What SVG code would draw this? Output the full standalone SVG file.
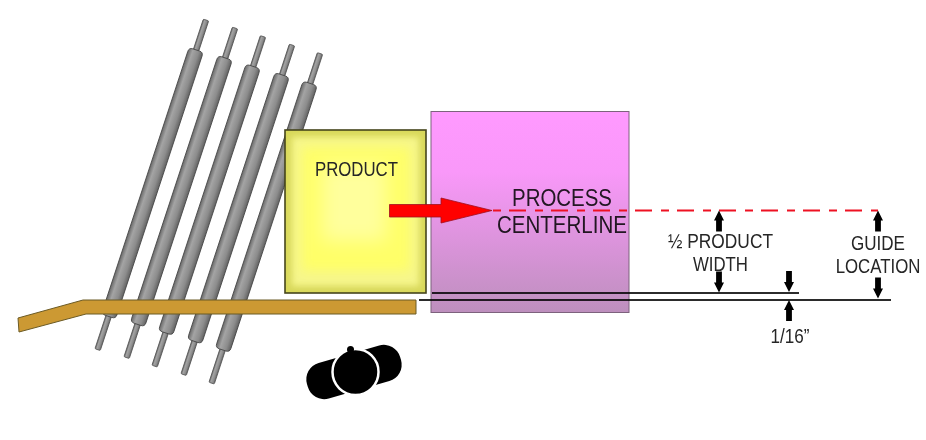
<svg xmlns="http://www.w3.org/2000/svg" width="926" height="440" viewBox="0 0 926 440">
<style>
text{font-family:"Liberation Sans",Arial,sans-serif;fill:#262626;text-anchor:middle}
.s17{font-size:19.5px}
.s20{font-size:23px}
.pin{fill:url(#rollGrad);stroke:#555;stroke-width:.8}
.body{fill:url(#rollGrad);stroke:#444;stroke-width:.8}
.dim{stroke:#2b2b2b;fill:none}
</style>
<defs>
<linearGradient id="rollGrad" x1="0" x2="1" y1="0" y2="0">
<stop offset="0" stop-color="#686868"/><stop offset=".3" stop-color="#a4a4a4"/><stop offset=".7" stop-color="#8c8c8c"/><stop offset="1" stop-color="#626262"/>
</linearGradient>
<linearGradient id="pinkGrad" x1="0" x2="0" y1="0" y2="1">
<stop offset="0" stop-color="#ff99ff"/><stop offset=".3" stop-color="#f998f9"/><stop offset="1" stop-color="#bd8fbd"/>
</linearGradient>
<filter id="b3" x="-10%" y="-10%" width="120%" height="120%"><feGaussianBlur stdDeviation="3"/></filter>
<filter id="b6" x="-20%" y="-20%" width="140%" height="140%"><feGaussianBlur stdDeviation="6"/></filter>
<filter id="b10" x="-30%" y="-30%" width="160%" height="160%"><feGaussianBlur stdDeviation="9"/></filter>
<clipPath id="prodClip"><rect x="285" y="130" width="141" height="163"/></clipPath>
<g id="roller">
<rect class="pin" x="-2.800" y="0" width="5.600" height="347" rx="1"/>
<rect class="body" x="-7.500" y="31.500" width="15" height="280.500" rx="4"/>
</g>
<path id="arrowHead" d="M0 0L5 10H2.900V21H-2.900V10H-5Z" fill="#000"/>
</defs>

<g id="rollers">
<g id="roller-1" transform="translate(206 20) rotate(18.2)"><use href="#roller"/></g>
<g id="roller-2" transform="translate(235 28) rotate(18.2)"><use href="#roller"/></g>
<g id="roller-3" transform="translate(263 36.500) rotate(18.2)"><use href="#roller"/></g>
<g id="roller-4" transform="translate(292 45) rotate(18.2)"><use href="#roller"/></g>
<g id="roller-5" transform="translate(320 53.500) rotate(18.2)"><use href="#roller"/></g>
</g>

<g id="product">
<rect x="285" y="130" width="141" height="163" fill="#d8d85a"/>
<g clip-path="url(#prodClip)">
<rect x="292" y="137" width="127" height="149" fill="#f6f68c" filter="url(#b3)"/>
<rect x="302" y="147" width="108" height="124" fill="#ffff68" filter="url(#b6)"/>
<rect x="322" y="165" width="64" height="76" fill="#ffff9c" filter="url(#b10)"/>
</g>
<rect x="285" y="130" width="141" height="163" fill="none" stroke="#45451c" stroke-width="1.600"/>
<text class="s17" x="356.500" y="176" textLength="83" lengthAdjust="spacingAndGlyphs">PRODUCT</text>
</g>

<g id="guide-rail">
<polygon points="18,318 83,300 416,300 416,314 86,314 19,332" fill="#cc9933" stroke="#6b5a24" stroke-width="1"/>
</g>

<g id="clamp">
<rect x="-48.500" y="-18.500" width="97" height="37" rx="17" transform="translate(354 372) rotate(-16)" fill="#000"/>
<circle cx="355.500" cy="372" r="23" fill="#000" stroke="#fff" stroke-width="2.500"/>
<circle cx="350.500" cy="349.500" r="3.500" fill="#000"/>
</g>

<g id="connectors">
<line class="dim" x1="432" y1="293" x2="799" y2="293" stroke-width="2"/>
<line class="dim" x1="419" y1="300" x2="891" y2="300" stroke-width="1.800"/>
</g>

<g id="process-label">
<text class="s20" x="562" y="206" textLength="100" lengthAdjust="spacingAndGlyphs">PROCESS</text>
<text class="s20" x="562" y="233" textLength="130" lengthAdjust="spacingAndGlyphs">CENTERLINE</text>
</g>

<g id="process-zone">
<rect x="431" y="111.500" width="198" height="201" fill="url(#pinkGrad)" stroke="#7d627d" stroke-width="1" style="mix-blend-mode:multiply"/>
</g>

<g id="centerline">
<line x1="493" y1="210.500" x2="878" y2="210.500" stroke="#ee1122" stroke-width="1.800" stroke-dasharray="8 8 17 9"/>
<polygon points="389.500,204.500 441,204.500 441,198 492,210.500 441,223 441,217 389.500,217" fill="#ff0000" stroke="#a01020" stroke-width=".8"/>
</g>

<g id="dimension-arrows">
<use href="#arrowHead" transform="translate(719 210.500)"/>
<use href="#arrowHead" transform="translate(719 292.500) scale(1 -1)"/>
<use href="#arrowHead" transform="translate(789 292) scale(1 -1)"/>
<use href="#arrowHead" transform="translate(789 300)"/>
<use href="#arrowHead" transform="translate(878 210.500)"/>
<use href="#arrowHead" transform="translate(878 298.500) scale(1 -1)"/>
</g>

<g id="half-width-label">
<text class="s17" x="720.500" y="248" textLength="105" lengthAdjust="spacingAndGlyphs">½ PRODUCT</text>
<text class="s17" x="720.500" y="271" textLength="55" lengthAdjust="spacingAndGlyphs">WIDTH</text>
</g>
<g id="guide-label">
<text class="s17" x="878" y="250" textLength="54" lengthAdjust="spacingAndGlyphs">GUIDE</text>
<text class="s17" transform="translate(878 272.500) scale(.863 1)">LOCATION</text>
</g>
<g id="gap-label">
<text class="s17" x="790" y="342.500" textLength="39" lengthAdjust="spacingAndGlyphs">1/16”</text>
</g>
</svg>
